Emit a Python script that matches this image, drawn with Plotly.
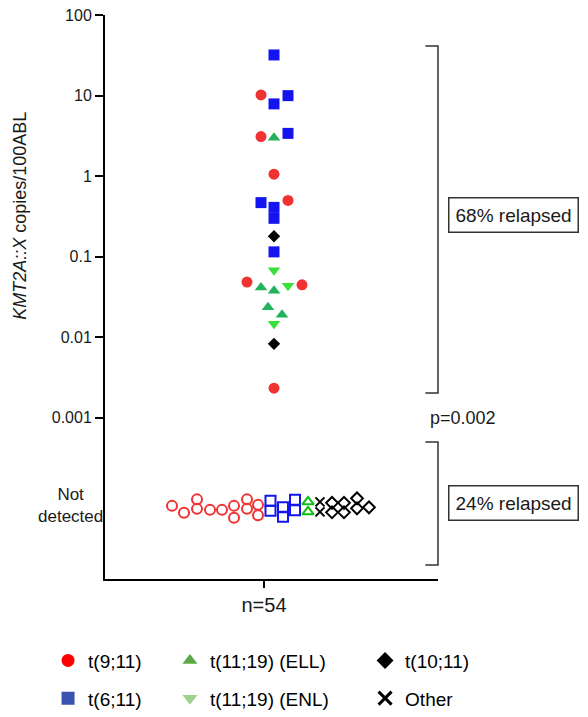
import plotly.graph_objects as go

# detected transcript levels, KMT2A::X copies/100ABL
t9_11 = [10.2, 3.1, 1.06, 0.50, 0.0485, 0.0449, 0.00234]
t6_11 = [32, 10, 7.9, 3.4, 0.47, 0.41, 0.30, 0.115]
t11_19_ell = [3.0, 0.0416, 0.0378, 0.0237, 0.019]
t11_19_enl = [0.068, 0.0436, 0.0147]
t10_11 = [0.18, 0.0083]

# swarm offsets (px) for detected points
t9_11_dx = [-3, -3, 10, 24, -17, 38, 10]
t6_11_dx = [10, 24, 10, 24, -3, 10, 10, 10]
ell_dx = [10, -3, 10, 4, 18]
enl_dx = [10, 24, 10]
t10_11_dx = [10, 10]

# not detected cases: swarm offsets (px) in x and y around the "Not detected" row
nd_t9_11_dx = [-92, -80, -67, -67, -54, -42, -30, -30, -17, -17, -6, -6]
nd_t9_11_dy = [-2, 5, -8.5, 1, 2, 2, -2, 10, -8.5, 1, -3, 7.5]
nd_t6_11_dx = [6.5, 6.5, 19, 19, 31, 31]
nd_t6_11_dy = [-7, 3, -0.5, 9, -8, 2.5]
nd_ell_dx = [44, 44]
nd_ell_dy = [-6, 4]
nd_other_dx = [56, 56]
nd_other_dy = [-6, 4]
nd_t10_11_dx = [68, 68, 80, 80, 93, 93, 105]
nd_t10_11_dy = [-5, 4.5, -5, 4.5, -9.5, 0.5, -0.5]

ND_LOG = -4.117
PX_PER_DEC = 564 / 7


def nd_y(dy):
    return [10 ** (ND_LOG - d / PX_PER_DEC) for d in dy]


FONT = "Liberation Sans, Arial, sans-serif"
RED = "#f03232"
BLUE = "#1414ee"
ELL = "#22b25a"
ENL = "#38e038"

fig = go.Figure()


def pts(dx, y, symbol, color, size, lw=0):
    fig.add_trace(go.Scatter(
        x=dx, y=y, mode="markers", showlegend=False, hoverinfo="y",
        marker=dict(symbol=symbol, color=color, size=size,
                    line=dict(width=lw, color=color))))


pts(t9_11_dx, t9_11, "circle", RED, 11)
pts(t6_11_dx, t6_11, "square", BLUE, 11)
pts(ell_dx, t11_19_ell, "triangle-up", ELL, 11)
pts(enl_dx, t11_19_enl, "triangle-down", ENL, 11)
pts(t10_11_dx, t10_11, "diamond", "black", 9.5)

pts(nd_t9_11_dx, nd_y(nd_t9_11_dy), "circle-open", RED, 10, 2)
pts(nd_t6_11_dx, nd_y(nd_t6_11_dy), "square-open", BLUE, 10, 2)
pts(nd_ell_dx, nd_y(nd_ell_dy), "triangle-up-open", "#10c010", 10, 2)
pts(nd_other_dx, nd_y(nd_other_dy), "x-thin", "black", 9, 2)
pts(nd_t10_11_dx, nd_y(nd_t10_11_dy), "diamond-open", "black", 9, 2)

# legend entries
legend_items = [
    ("t(9;11)", "circle", "#ff0000", "legend"),
    ("t(6;11)", "square", "#3853b0", "legend"),
    ("t(11;19) (ELL)", "triangle-up", "#5aa846", "legend2"),
    ("t(11;19) (ENL)", "triangle-down", "#9fcf8c", "legend2"),
    ("t(10;11)", "diamond", "black", "legend3"),
    ("Other", "x-thin", "black", "legend3"),
]
for name, sym, col, leg in legend_items:
    fig.add_trace(go.Scatter(
        x=[None], y=[None], mode="markers", name=name, legend=leg,
        legendgroup=name,
        marker=dict(symbol=sym, color=col, size=13,
                    line=dict(width=3 if sym == "x-thin" else 0, color=col))))

leg_style = dict(font=dict(family=FONT, size=19, color="black"),
                 bgcolor="rgba(0,0,0,0)", yanchor="top", y=-0.111,
                 xanchor="left", tracegroupgap=10, itemwidth=30)
fig.update_layout(
    legend=dict(x=-0.171, **leg_style),
    legend2=dict(x=0.195, **leg_style),
    legend3=dict(x=0.781, **leg_style),
)

fig.update_xaxes(range=[-159, 174], showline=True, linecolor="black", linewidth=2,
                 ticks="outside", tickvals=[0], ticktext=["n=54"], ticklen=7,
                 tickwidth=1.5, tickcolor="black", showgrid=False, zeroline=False,
                 tickfont=dict(family=FONT, size=20, color="#1a1a1a"))
fig.update_yaxes(type="log", range=[-5, 2.001], showline=True, linecolor="black",
                 linewidth=2, ticks="outside", ticklen=8, tickwidth=1.5,
                 tickcolor="black",
                 tickvals=[100, 10, 1, 0.1, 0.01, 0.001],
                 ticktext=["100", "10", "1", "0.1", "0.01", "0.001"],
                 showgrid=False, zeroline=False,
                 tickfont=dict(family=FONT, size=16, color="#1a1a1a"))

# brackets
for top, bot in [(0.945, 0.330), (0.243, 0.025)]:
    fig.add_shape(type="path", xref="paper", yref="paper",
                  path=f"M 0.962 {top} L 1.0 {top} L 1.0 {bot} L 0.962 {bot}",
                  line=dict(color="#333333", width=1.5))


def note(text, x, y, **kw):
    fig.add_annotation(text=text, xref="paper", yref="paper", x=x, y=y,
                       xanchor="center", yanchor="middle", showarrow=False, **kw)


note("<i>KMT2A::X</i> copies/100ABL", -0.255, 0.644, textangle=-90,
     font=dict(family=FONT, size=18, color="#1a1a1a"))
note("Not<br>detected", -0.105, 0.131,
     font=dict(family=FONT, size=17, color="#1a1a1a"))
note("p=0.002", 1.075, 0.2855, font=dict(family=FONT, size=18, color="#1a1a1a"))
for txt, yy in [("68% relapsed", 0.645), ("24% relapsed", 0.134)]:
    note(txt, 1.227, yy, font=dict(family=FONT, size=19, color="#1a1a1a"),
         bordercolor="#333333", borderwidth=1.5, borderpad=6, bgcolor="white")

fig.update_layout(
    width=588, height=717,
    margin=dict(l=105, r=150, t=15, b=138, autoexpand=False),
    plot_bgcolor="white", paper_bgcolor="white",
    font=dict(family=FONT),
)

# drop the default page margin so the figure fills the window exactly
fig.write_html("out.html", config={"displayModeBar": False},
               post_script="document.body.style.margin='0';")
